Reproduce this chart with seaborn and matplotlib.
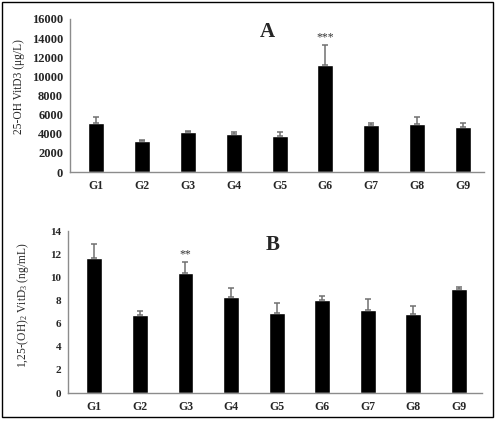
import numpy as np
import pandas as pd
import seaborn as sns
import matplotlib.pyplot as plt
from matplotlib.patches import Rectangle

groups = ['G1', 'G2', 'G3', 'G4', 'G5', 'G6', 'G7', 'G8', 'G9']

# panel A: 25-OH VitD3
vitd3_mean = [5150, 3250, 4150, 3950, 3800, 11150, 4950, 5050, 4700]
vitd3_err = [600, 60, 150, 200, 400, 2150, 150, 700, 450]

# panel B: 1,25-(OH)2 VitD3
diol_mean = [11.7, 6.7, 10.4, 8.3, 6.9, 8.0, 7.15, 6.8, 9.0]
diol_err = [1.2, 0.4, 0.95, 0.75, 0.85, 0.35, 0.95, 0.7, 0.2]

sns.set_style('white')
plt.rcParams['font.family'] = ['Liberation Serif', 'DejaVu Serif']
plt.rcParams['mathtext.fontset'] = 'custom'
plt.rcParams['mathtext.rm'] = 'Liberation Serif'
plt.rcParams['mathtext.default'] = 'regular'

df_a = pd.DataFrame({'group': groups, 'value': vitd3_mean})
df_b = pd.DataFrame({'group': groups, 'value': diol_mean})

fig = plt.figure(figsize=(4.98, 4.22), dpi=100)
ax1 = fig.add_axes([0.1406, 0.5924, 0.8313, 0.3626])
ax2 = fig.add_axes([0.1365, 0.0687, 0.8313, 0.3839])

spine_col = '#8c8c8c'


def panel(ax, df, err, ylim, yticks, ylabel, label_xy, ytick_size, ylab_size):
    sns.barplot(data=df, x='group', y='value', color='black', saturation=1,
                width=0.35, errorbar=None, ax=ax)
    pos = np.arange(len(df))
    ax.errorbar(pos, df['value'], yerr=[np.zeros(len(err)), err], fmt='none',
                ecolor='#707070', elinewidth=1.1, capsize=2.5, capthick=1.1)
    ax.set_ylim(*ylim)
    ax.set_yticks(yticks)
    ax.set_xlabel('')
    ax.set_ylabel(ylabel, fontsize=ylab_size)
    ax.yaxis.set_label_coords(*label_xy)
    sns.despine(ax=ax)
    for s in ['left', 'bottom']:
        ax.spines[s].set_color(spine_col)
        ax.spines[s].set_linewidth(1)
    ax.tick_params(axis='y', length=3, color=spine_col, labelsize=ytick_size, pad=2)
    ax.tick_params(axis='x', length=0, labelsize=8.5, pad=6)
    for t in ax.get_xticklabels() + ax.get_yticklabels():
        t.set_fontweight('bold')


panel(ax1, df_a, vitd3_err, (0, 16000), np.arange(0, 16001, 2000),
      '25-OH VitD3 (\u03bcg/L)', (-0.108, 0.56), 9, 8.3)
ax1.set_xlim(-0.57, 8.46)
ax1.text(5, vitd3_mean[5] + vitd3_err[5] + 150, '***', ha='center', va='bottom',
         fontsize=8.5, color='#333333')

panel(ax2, df_b, diol_err, (0, 14), np.arange(0, 15, 2),
      r'1,25-(OH)$_2$ VitD$_3$ (ng/mL)', (-0.09, 0.54), 8, 8.3)
ax2.set_xlim(-0.58, 8.51)
ax2.text(2, diol_mean[2] + diol_err[2] + 0.15, '**', ha='center', va='bottom',
         fontsize=8.5, color='#333333')

fig.text(267 / 498, 1 - 32 / 422, 'A', fontsize=15, fontweight='bold',
         ha='center', va='center')
fig.text(273 / 498, 1 - 245 / 422, 'B', fontsize=15, fontweight='bold',
         ha='center', va='center')

fig.add_artist(Rectangle((0.004, 0.0118), 0.986, 0.983, transform=fig.transFigure,
                         fill=False, edgecolor='black', linewidth=1))

plt.savefig('out.png', dpi=100)
